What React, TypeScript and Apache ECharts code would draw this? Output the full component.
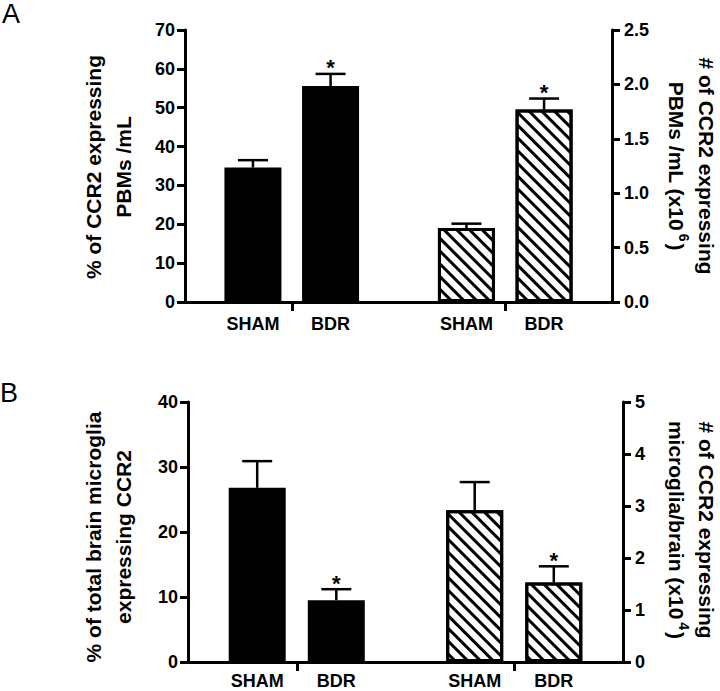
import React, { useEffect, useRef } from "react";
import * as echarts from "echarts";

// ---------- data ----------
const groups = ["SHAM", "BDR"];
// Panel A: % of CCR2 expressing PBMs/mL (left axis), # of CCR2 expressing PBMs/mL x10^6 (right axis)
const aPctMean = [34.6, 55.6];
const aPctErr = [1.9, 3.1];
const aCountMean = [0.68, 1.77];
const aCountErr = [0.04, 0.1];
// Panel B: % of total brain microglia expressing CCR2 (left), # microglia/brain x10^4 (right)
const bPctMean = [26.8, 9.5];
const bPctErr = [4.1, 1.7];
const bCountMean = [2.92, 1.53];
const bCountErr = [0.54, 0.31];
const significant = [false, true];

// axis ranges
const aLeftAxis = { min: 0, max: 70, interval: 10 };
const aRightAxis = { min: 0, max: 2.5, interval: 0.5 };
const bLeftAxis = { min: 0, max: 40, interval: 10 };
const bRightAxis = { min: 0, max: 5, interval: 1 };

// ---------- layout ----------
const SLOT_COUNT = 22;
const leftPairSlots = [3, 7];
const rightPairSlots = [14, 18];
const dividerSlots = [5, 16];
const FONT = '"Liberation Sans", Arial, Helvetica, sans-serif';

const categories = Array.from({ length: SLOT_COUNT }, (_, i) => {
  const l = leftPairSlots.indexOf(i);
  if (l >= 0) return groups[l];
  const r = rightPairSlots.indexOf(i);
  if (r >= 0) return groups[r];
  return "";
});

const hatch = {
  symbol: "rect",
  symbolSize: 1,
  dashArrayX: [1, 0],
  dashArrayY: [2.5, 6],
  rotation: Math.PI / 4,
  color: "#000",
  backgroundColor: "#fff",
};

function errorSeries(
  xAxisIndex: number,
  yAxisIndex: number,
  slots: number[],
  means: number[],
  errs: number[]
) {
  return {
    type: "custom",
    xAxisIndex,
    yAxisIndex,
    z: 10,
    encode: { x: 0, y: 1 },
    data: means.map((m, i) => [slots[i], m, errs[i], significant[i] ? 1 : 0]),
    renderItem: (params: any, api: any) => {
      const x = api.value(0);
      const m = api.value(1);
      const e = api.value(2);
      const sig = api.value(3);
      const base = api.coord([x, m]);
      const top = api.coord([x, m + e]);
      const half = 15;
      const children: any[] = [
        {
          type: "line",
          shape: { x1: base[0], y1: base[1], x2: top[0], y2: top[1] },
          style: { stroke: "#000", lineWidth: 2.5 },
        },
        {
          type: "line",
          shape: { x1: top[0] - half, y1: top[1], x2: top[0] + half, y2: top[1] },
          style: { stroke: "#000", lineWidth: 2.5 },
        },
      ];
      if (sig) {
        children.push({
          type: "text",
          x: top[0],
          y: top[1] - 6,
          style: {
            text: "*",
            fill: "#000",
            fontSize: 22,
            fontWeight: "bold",
            fontFamily: FONT,
            align: "center",
            verticalAlign: "middle",
          },
        });
      }
      return { type: "group", children };
    },
  };
}

function panel(
  idx: number,
  grid: any,
  leftAxis: any,
  rightAxis: any,
  rightFmt: (v: number) => string,
  catMargin: number,
  pctMean: number[],
  pctErr: number[],
  cntMean: number[],
  cntErr: number[]
) {
  const axisLine = { show: true, onZero: false, lineStyle: { color: "#000", width: 3 } };
  const axisTick = { show: true, length: 8, inside: false, lineStyle: { color: "#000", width: 3 } };
  const label = { color: "#000", fontWeight: "bold", fontSize: 18, fontFamily: FONT };
  const xAxis = {
    type: "category",
    gridIndex: idx,
    data: categories,
    boundaryGap: true,
    axisLine,
    axisTick: {
      show: true,
      alignWithLabel: true,
      interval: (i: number) => dividerSlots.includes(i),
      length: 9,
      lineStyle: { color: "#000", width: 3 },
    },
    axisLabel: {
      ...label,
      lineHeight: 18,
      interval: (i: number, v: string) => v !== "",
      margin: catMargin,
    },
    splitLine: { show: false },
  };
  const yAxes = [
    {
      type: "value",
      gridIndex: idx,
      position: "left",
      ...leftAxis,
      axisLine,
      axisTick,
      axisLabel: { ...label, margin: 10 },
      splitLine: { show: false },
    },
    {
      type: "value",
      gridIndex: idx,
      position: "right",
      ...rightAxis,
      axisLine,
      axisTick,
      axisLabel: { ...label, margin: 12, formatter: rightFmt },
      splitLine: { show: false },
    },
  ];
  const yL = idx * 2;
  const yR = idx * 2 + 1;
  const series = [
    {
      type: "bar",
      xAxisIndex: idx,
      yAxisIndex: yL,
      barWidth: 57,
      barGap: "-100%",
      data: pctMean.map((v, i) => [leftPairSlots[i], v]),
      itemStyle: { color: "#000", borderColor: "#000", borderWidth: 3 },
    },
    {
      type: "bar",
      xAxisIndex: idx,
      yAxisIndex: yR,
      barWidth: 57,
      barGap: "-100%",
      data: cntMean.map((v, i) => [rightPairSlots[i], v]),
      itemStyle: { color: "#fff", borderColor: "#000", borderWidth: 3, decal: hatch },
    },
    errorSeries(idx, yL, leftPairSlots, pctMean, pctErr),
    errorSeries(idx, yR, rightPairSlots, cntMean, cntErr),
  ];
  return { grid, xAxis, yAxes, series };
}

function titleText(x: number, y: number, rot: number, text: string) {
  return {
    type: "text",
    x,
    y,
    rotation: rot,
    style: {
      text,
      fill: "#000",
      fontSize: 21,
      fontWeight: "bold",
      fontFamily: FONT,
      align: "center",
      verticalAlign: "middle",
      lineHeight: 30,
    },
  };
}

export default function App() {
  const ref = useRef<HTMLDivElement>(null);
  useEffect(() => {
    document.body.style.margin = "0";
    if (!ref.current) return;
    const chart = echarts.init(ref.current, undefined, { renderer: "svg" });
    const pA = panel(
      0,
      { left: 185, right: 108, top: 30, height: 272, outerBoundsMode: "none" },
      aLeftAxis,
      aRightAxis,
      (v: number) => v.toFixed(1),
      13,
      aPctMean,
      aPctErr,
      aCountMean,
      aCountErr
    );
    const pB = panel(
      1,
      { left: 188, right: 97, top: 402, height: 260, outerBoundsMode: "none" },
      bLeftAxis,
      bRightAxis,
      (v: number) => String(v),
      10,
      bPctMean,
      bPctErr,
      bCountMean,
      bCountErr
    );
    const richRight = (line1: string, line2a: string, sup: string) => ({
      text: `{t|${line1}}\n{t|${line2a}}{s|${sup}}{t|)}`,
      rich: {
        t: { fontSize: 21, fontWeight: "bold", fontFamily: FONT, fill: "#000", lineHeight: 30 },
        s: {
          fontSize: 14,
          fontWeight: "bold",
          fontFamily: FONT,
          fill: "#000",
          lineHeight: 14,
          verticalAlign: "top",
          padding: [0, 2, 0, 3],
        },
      },
    });
    chart.setOption({
      animation: false,
      backgroundColor: "#fff",
      grid: [pA.grid, pB.grid],
      xAxis: [pA.xAxis, pB.xAxis],
      yAxis: [...pA.yAxes, ...pB.yAxes],
      series: [...pA.series, ...pB.series],
      graphic: [
        {
          type: "text",
          x: 2,
          y: 14,
          style: { text: "A", fill: "#000", fontSize: 27, fontFamily: FONT, verticalAlign: "middle" },
        },
        {
          type: "text",
          x: 0,
          y: 393,
          style: { text: "B", fill: "#000", fontSize: 27, fontFamily: FONT, verticalAlign: "middle" },
        },
        titleText(108, 167, Math.PI / 2, "% of CCR2 expressing\nPBMs /mL"),
        titleText(108, 537, Math.PI / 2, "% of total brain microglia\nexpressing CCR2"),
        {
          type: "text",
          x: 691,
          y: 166,
          rotation: -Math.PI / 2,
          style: {
            ...richRight("# of CCR2 expressing", "PBMs /mL (x10", "6"),
            align: "center",
            verticalAlign: "middle",
          },
        },
        {
          type: "text",
          x: 691,
          y: 530,
          rotation: -Math.PI / 2,
          style: {
            ...richRight("# of CCR2 expressing", "microglia/brain (x10", "4"),
            align: "center",
            verticalAlign: "middle",
          },
        },
      ],
    });
    return () => chart.dispose();
  }, []);
  return <div ref={ref} style={{ width: 720, height: 691 }} />;
}
